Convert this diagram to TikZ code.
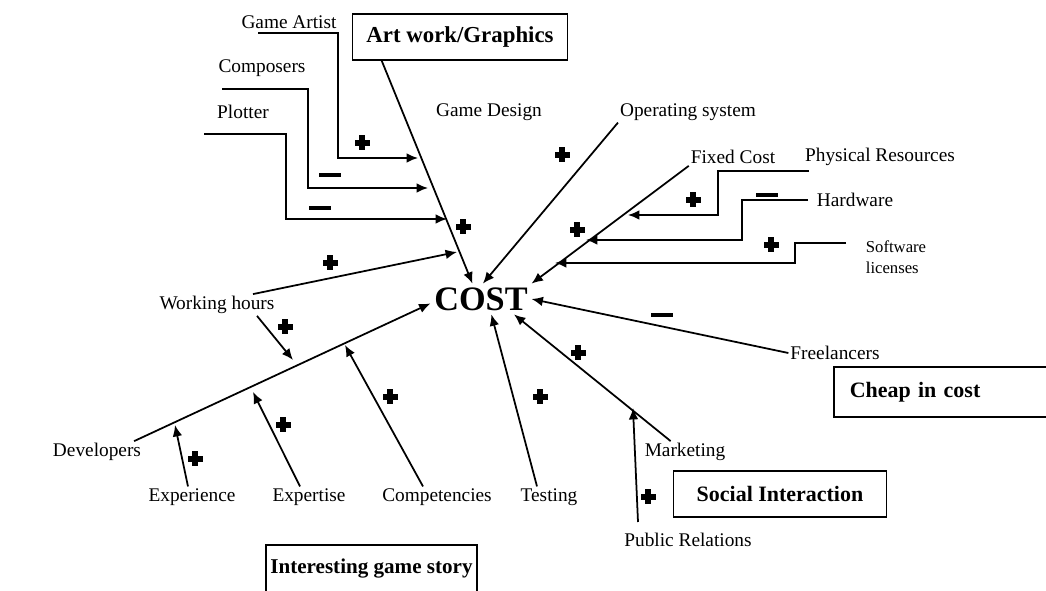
\documentclass[tikz,border=0pt]{standalone}
\usepackage{fontspec}
\setmainfont{Liberation Serif}
\usetikzlibrary{calc,arrows.meta}

\begin{document}
\begin{tikzpicture}[x=0.02cm, y=-0.02cm]
\tikzset{
    factor/.style={font=\fontsize{11}{13}\selectfont, inner sep=1pt},
    smallfactor/.style={font=\fontsize{9.5}{12}\selectfont, inner sep=1pt, align=left},
    theme/.style={draw, line width=0.9pt, font=\bfseries\fontsize{12.5}{15}\selectfont, minimum height=0.92cm},
    link/.style={line width=1pt, -{Latex[length=6.5pt,width=5.5pt]}},
    pics/plus/.style={code={%
        \fill (-7.5,-2.8) rectangle (7.5,2.8);
        \fill (-2.8,-7.5) rectangle (2.8,7.5);}},
    pics/minus/.style={code={\fill (-11,-2.2) rectangle (11,2.2);}},
}
\useasboundingbox (0,0) rectangle (1046,591);

% the effect in the middle
\node[font=\bfseries\fontsize{19.5}{22}\selectfont, inner sep=2pt] (cost) at (481,299) {COST};

% the boxed themes
\node[theme, minimum width=4.3cm, font=\bfseries\fontsize{13}{15}\selectfont] (art) at (460,37) {Art work/Graphics};
\node[theme, anchor=west, inner xsep=0.32cm, text width=3.7cm, align=left, minimum height=1cm] (cheap) at (833,392) {Cheap in cost};
\node[theme, minimum width=4.26cm] (social) at (780,494) {Social Interaction};
\node[theme, minimum width=4.22cm, minimum height=0.96cm, inner xsep=2pt, font=\bfseries\fontsize{12}{15}\selectfont] (story) at (371.5,569) {Interesting game story};

% the factors
\node[factor] (gameartist) at (289,22) {Game Artist};
\node[factor] (composers) at (262,68) {Composers};
\node[factor] (plotter) at (243,112) {Plotter};
\node[factor] (gamedesign) at (489,112) {Game Design};
\node[factor] (opsys) at (688,112) {Operating system};
\node[factor] (fixedcost) at (733,157) {Fixed Cost};
\node[factor] (physres) at (880,157) {Physical Resources};
\node[factor] (hardware) at (855,200) {Hardware};
\node[smallfactor] (software) at (896,257) {Software\\licenses};
\node[factor] (workinghours) at (217,305) {Working hours};
\node[factor] (freelancers) at (835,353) {Freelancers};
\node[factor] (developers) at (97,452) {Developers};
\node[factor] (experience) at (192,497) {Experience};
\node[factor] (expertise) at (309,497) {Expertise};
\node[factor] (competencies) at (437,497) {Competencies};
\node[factor] (testing) at (549,497) {Testing};
\node[factor] (marketing) at (685,452) {Marketing};
\node[factor] (publicrel) at (688,540) {Public Relations};

% free ends and bends of the stepped links
\coordinate (gaS) at (258,33);  \coordinate (gaB) at (338,158); \coordinate (gaT) at (418,158);
\coordinate (cpS) at (222,89);  \coordinate (cpB) at (308,188); \coordinate (cpT) at (428,188);
\coordinate (plS) at (204,134); \coordinate (plB) at (286,219); \coordinate (plT) at (447,219);
\coordinate (prS) at (809,171); \coordinate (prB) at (718,215); \coordinate (prT) at (628,215);
\coordinate (hwS) at (808,200); \coordinate (hwB) at (742,240); \coordinate (hwT) at (586,240);
\coordinate (swS) at (846,243); \coordinate (swB) at (795,263); \coordinate (swT) at (555,263);

% tips that end short of a line
\coordinate (whT) at (457,252);
\coordinate (wdT) at (293,360);
\coordinate (xpT) at (175,425);
\coordinate (exT) at (253,392);
\coordinate (coT) at (345,345);
\coordinate (prlS) at (638,522);
\coordinate (prlT) at (633,408);

% Draws the stepped links
\foreach \s/\b/\t in {gaS/gaB/gaT, cpS/cpB/cpT, plS/plB/plT, prS/prB/prT, hwS/hwB/hwT, swS/swB/swT}{
    \draw[link] (\s) -| (\b) -- (\t);
}

% Draws the straight links into COST
\draw[link] ([xshift=0.6cm]art.south west) -- (cost.119);
\draw[link] (opsys.south west) -- (cost.83);
\draw[link] (fixedcost.south west) -- (cost.north east);
\draw[link] (freelancers.west) -- (cost.east);
\draw[link] ([xshift=0.56cm]marketing.north west) -- (cost.-25);
\draw[link] ([xshift=-0.24cm]testing.north) -- (cost.-56);
\draw[link] ([xshift=-0.18cm]developers.north east) -- (cost.185);

% Draws the links into other links
\draw[link] ([xshift=0.72cm]workinghours.north) -- (whT);
\draw[link] ([xshift=0.8cm]workinghours.south) -- (wdT);
\draw[link] ([xshift=-0.08cm]experience.north) -- (xpT);
\draw[link] ([xshift=-0.18cm]expertise.north) -- (exT);
\draw[link] ([xshift=-0.28cm]competencies.north) -- (coT);
\draw[link] (prlS) -- (prlT);

% polarity signs
\foreach \px/\py in {362/143, 463/227, 562/155, 693/200, 577/230, 771/245, 330/263, 285/327,
    390/397, 283/425, 195/459, 578/353, 540/397, 648/497}{
    \pic at (\px,\py) {plus};
}
\foreach \px/\py in {330/175, 320/208, 767/195, 662/315}{
    \pic at (\px,\py) {minus};
}

\end{tikzpicture}
\end{document}
